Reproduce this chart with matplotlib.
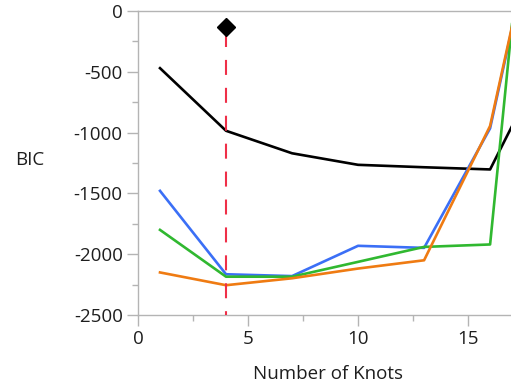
import matplotlib
matplotlib.use("Agg")
import matplotlib.pyplot as plt

knots = [1, 4, 7, 10, 13, 16, 19]
bic_black = [-470, -985, -1170, -1265, -1285, -1303, -230]
bic_blue = [-1479, -2165, -2180, -1931, -1948, -965, 1510]
bic_green = [-1800, -2185, -2185, -2063, -1940, -1920, 3540]
bic_orange = [-2150, -2255, -2198, -2118, -2050, -945, 1520]
best_knots = 4
best_marker_y = -128

plt.rcParams['font.family'] = ['Open Sans', 'DejaVu Sans']
plt.rcParams['axes.unicode_minus'] = False

W, H = 511, 389
fig = plt.figure(figsize=(W / 100, H / 100), dpi=100)
ax = fig.add_axes([138 / W, (H - 315) / H, (511 - 138) / W, (315 - 11) / H])

ax.plot(knots, bic_black, color='black', lw=1.9, zorder=3)
ax.plot(knots, bic_blue, color='#3b6ff6', lw=1.9, zorder=3)
ax.plot(knots, bic_green, color='#30b830', lw=1.9, zorder=3)
ax.plot(knots, bic_orange, color='#ef7b12', lw=1.9, zorder=4)

ax.plot([best_knots, best_knots], [-170, -2500], color='#ef2f48', lw=1.5,
        dashes=(7.2, 6.2), zorder=5)
ax.plot([best_knots], [best_marker_y], marker='D', color='black', markersize=9, zorder=6)

ax.set_xlim(0, 16.95)
ax.set_ylim(-2500, 0)
ax.set_xticks([0, 5, 10, 15])
ax.set_xticks([2.5, 7.5, 12.5], minor=True)
ax.set_yticks([-2500, -2000, -1500, -1000, -500, 0])
ax.set_yticks([-2250, -1750, -1250, -750, -250], minor=True)

for s in ['left', 'bottom', 'top']:
    ax.spines[s].set_color('#b4b4b4')
    ax.spines[s].set_linewidth(1.0)
ax.spines['right'].set_visible(False)

ax.tick_params(axis='both', which='major', length=8, width=1, color='#b4b4b4',
               labelsize=13.5, labelcolor='#1e1e1e', pad=3)
ax.tick_params(axis='both', which='minor', length=4, width=1, color='#b4b4b4')

ax.set_xlabel('Number of Knots', fontsize=13.5, color='#1e1e1e')
ax.xaxis.set_label_coords((328 - 138) / 373, (315 - 365) / 304)
ax.set_ylabel('BIC', fontsize=13.5, color='#1e1e1e', rotation=0, va='center', ha='center')
ax.yaxis.set_label_coords((30 - 138) / 373, (315 - 160) / 304)

fig.savefig('out.png', dpi=100)
